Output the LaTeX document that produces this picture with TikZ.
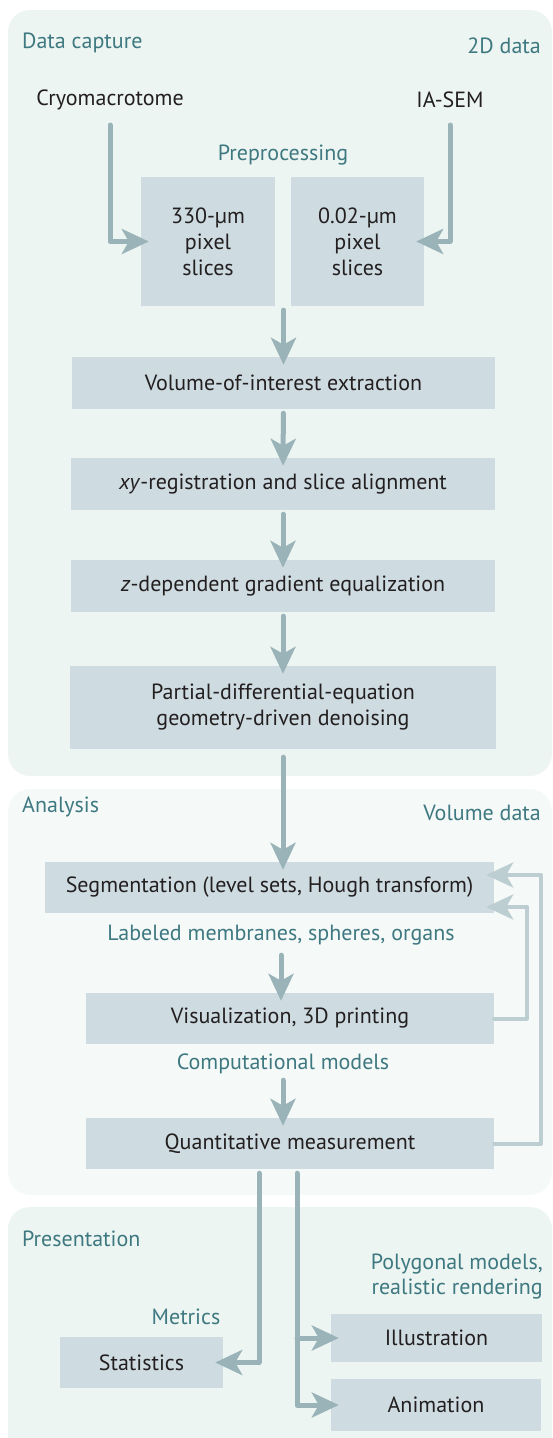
\documentclass[tikz,border=0pt]{standalone}
\usepackage{fontspec}
\setmainfont{PT Sans}
\usetikzlibrary{arrows.meta}
\definecolor{panelmint}{RGB}{236,245,241}
\definecolor{panelpale}{RGB}{245,249,248}
\definecolor{boxfill}{RGB}{206,220,225}
\definecolor{arrowgrey}{RGB}{154,179,184}
\definecolor{loopgrey}{RGB}{189,206,210}
\definecolor{tealtext}{RGB}{62,120,128}
\definecolor{boxtext}{RGB}{35,31,32}

\begin{document}
\begin{tikzpicture}[
    x=1pt, y=-1pt,
    panel/.style={rounded corners=22pt},
    stage/.style={rectangle, fill=boxfill, text=boxtext, inner sep=0pt,
        align=center, font=\fontsize{22}{26}\selectfont},
    caption/.style={text=tealtext, inner sep=0pt, font=\fontsize{22}{25}\selectfont},
    source/.style={text=boxtext, inner sep=0pt, font=\fontsize{22}{25}\selectfont},
    flow/.style={draw=arrowgrey, line width=5pt, line cap=round, line join=round,
        -{Stealth[length=27pt, width=25pt, inset=7pt]}, shorten >=-8pt},
    loop/.style={flow, draw=loopgrey, line width=4pt}
]
    \useasboundingbox (0,0) rectangle (552,1438);
    \clip (0,0) rectangle (552,1438);
    \fill[panelmint, panel] (8,10) rectangle (552,776);
    \fill[panelpale, panel] (8,789) rectangle (552,1195);
    \fill[panelmint, panel] (8,1207) rectangle (552,1480);

    \node[caption, anchor=west] (capture) at (22,43) {Data capture};
    \node[caption, anchor=east] (twod) at (541,46) {2D data};
    \node[source] (cryo) at (110,100) {Cryomacrotome};
    \node[source] (iasem) at (450,100) {IA-SEM};
    \node[caption] (prep) at (283,155) {Preprocessing};
    \node[stage, minimum width=134pt, minimum height=129pt] (coarse) at (208,241.5) {330-µm\\pixel\\slices};
    \node[stage, minimum width=133pt, minimum height=129pt] (fine) at (357.5,241.5) {0.02-µm\\pixel\\slices};
    \node[stage, minimum width=423pt, minimum height=52pt] (voi) at (283.5,383) {Volume-of-interest extraction};
    \node[stage, minimum width=424pt, minimum height=52pt] (xyreg) at (283,484) {\textit{xy}-registration and slice alignment};
    \node[stage, minimum width=424pt, minimum height=52pt] (zgrad) at (283,586) {\textit{z}-dependent gradient equalization};
    \node[stage, minimum width=426pt, minimum height=83pt] (pde) at (283,707.5) {Partial-differential-equation\\geometry-driven denoising};

    \node[caption, anchor=west] (analysis) at (22,807) {Analysis};
    \node[caption, anchor=east] (voldata) at (541,813) {Volume data};
    \node[stage, minimum width=449pt, minimum height=51pt] (seg) at (269.5,887.5) {Segmentation (level sets, Hough transform)};
    \node[caption] (labeled) at (281,935) {Labeled membranes, spheres, organs};
    \node[stage, minimum width=408pt, minimum height=51pt] (vis) at (290,1018.5) {Visualization, 3D printing};
    \node[caption] (compmod) at (283,1064) {Computational models};
    \node[stage, minimum width=408pt, minimum height=51pt] (quant) at (290,1143.5) {Quantitative measurement};

    \node[caption, anchor=west] (present) at (22,1239) {Presentation};
    \node[caption, anchor=east, align=right] (polygon) at (543,1277) {Polygonal models,\\realistic rendering};
    \node[caption] (metrics) at (186,1317) {Metrics};
    \node[stage, minimum width=163pt, minimum height=51pt] (stats) at (141.5,1362.5) {Statistics};
    \node[stage, minimum width=211pt, minimum height=48pt] (illus) at (436.5,1338) {Illustration};
    \node[stage, minimum width=210pt, minimum height=52pt] (anim) at (436,1405) {Animation};

    \draw[flow] (cryo) ++(0,25) |- (coarse);
    \draw[flow] (iasem) ++(0,25) |- (fine);
    \draw[flow, shorten <=4pt] (voi.north |- coarse.south) -- (voi.north);
    \draw[flow, shorten <=4pt] (voi) -- (xyreg);
    \draw[flow, shorten <=4pt] (xyreg) -- (zgrad);
    \draw[flow, shorten <=4pt] (zgrad) -- (pde);
    \draw[flow, shorten <=8pt] (pde.south) -- (pde.south |- seg.north);
    \draw[flow, shorten <=10pt] (labeled.south) -- (labeled.south |- vis.north);
    \draw[flow, shorten <=6pt] (compmod.south) -- (compmod.south |- quant.north);
    \draw[loop] (quant.east) -- ++(47,0) |- ([yshift=12.5pt]seg.east);
    \draw[loop] (vis.east) -- ++(33,0) |- ([yshift=-19.5pt]seg.east);

    \coordinate (metricsplit) at ([xshift=-31pt]quant.south);
    \coordinate (rendersplit) at ([xshift=7pt]quant.south);
    \draw[flow, shorten <=4pt] (metricsplit) |- (stats);
    \draw[flow, shorten <=4pt] (rendersplit) |- (anim);
    \draw[flow] (rendersplit |- illus) -- (illus);
\end{tikzpicture}
\end{document}
